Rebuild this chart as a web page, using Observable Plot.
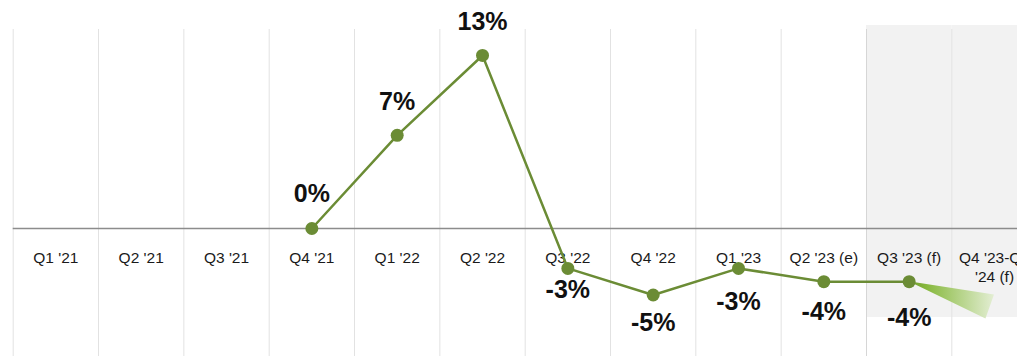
<!DOCTYPE html>
<html>
<head>
<meta charset="utf-8">
<script src="https://cdn.jsdelivr.net/npm/d3@7"></script>
<script src="https://cdn.jsdelivr.net/npm/@observablehq/plot@0.6"></script>
<style>
  html, body { margin: 0; padding: 0; background: #fff; overflow: hidden; }
  #chart svg { display: block; overflow: hidden; }
</style>
</head>
<body>
<div id="chart"></div>
<script>
// ---- data ----
const categories = ["Q1 '21", "Q2 '21", "Q3 '21", "Q4 '21", "Q1 '22", "Q2 '22", "Q3 '22", "Q4 '22", "Q1 '23", "Q2 '23 (e)", "Q3 '23 (f)", "Q4 '23-Q1\n'24 (f)"];
const growth = [null, null, null, 0, 7, 13, -3, -5, -3, -4, -4, null];
const forecastCategories = ["Q3 '23 (f)", "Q4 '23-Q1\n'24 (f)"];
const forecastUpper = [-4, -5.0];
const forecastLower = [-4, -6.8];
const shadedCategories = ["Q3 '23 (f)", "Q4 '23-Q1\n'24 (f)"];

// ---- derived tables ----
const idx = c => categories.indexOf(c);
const points = growth.map((v, i) => ({i, v})).filter(d => d.v !== null);
// the lower edge of the fan ends slightly before the upper edge (slanted end)
const fan = forecastCategories.map((c, k) => ({xa: idx(c), xb: idx(c) - (k ? 0.1 : 0), hi: forecastUpper[k], lo: forecastLower[k]}));

const green = "#6b8c35";
const labelDy = {3: -26, 4: -25, 5: -25, 6: 30, 7: 36, 8: 42, 9: 38, 10: 44};

const W = 1017, H = 356;
const colW = 85.33, x0 = 12.7;

const gradient = () => {
  const defs = d3.create("svg:defs");
  const g = defs.append("linearGradient").attr("id", "fanGrad").attr("x1", "0").attr("x2", "1").attr("y1", "0").attr("y2", "0");
  g.append("stop").attr("offset", "0%").attr("stop-color", "#6f9a2e");
  g.append("stop").attr("offset", "20%").attr("stop-color", "#86b83c");
  g.append("stop").attr("offset", "100%").attr("stop-color", "#e3eed3");
  return defs.node();
};

const chart = Plot.plot({
  width: W,
  height: H,
  marginTop: 0, marginBottom: 0, marginLeft: 0, marginRight: 0,
  style: {fontFamily: "'Liberation Sans', Arial, sans-serif", background: "#fff"},
  x: {type: "linear", domain: [-0.5, categories.length - 0.5], range: [x0, x0 + colW * categories.length], axis: null},
  y: {domain: [-9.62, 17.13], axis: null},
  marks: [
    gradient,
    // shaded forecast background
    Plot.rectY(shadedCategories, {x1: d => idx(d) - 0.5, x2: d => idx(d) + 0.5, y1: -6.69, y2: 15.25, fill: "#f2f2f2", inset: 0}),
    // vertical gridlines at column boundaries
    Plot.ruleX(categories, {x: (d, i) => i - 0.5, y1: 14.95, y2: -9.62, stroke: (d, i) => i === idx(shadedCategories[0]) ? "#d6d6d6" : "#e2e2e2", strokeWidth: 1}),
    // zero line
    Plot.ruleY([0], {x1: -0.5, x2: categories.length - 0.5, stroke: "#8c8c8c", strokeWidth: 1.5}),
    // category labels
    Plot.text(categories, {x: (d, i) => i, y: 0, dy: 21, text: d => d, lineAnchor: "top", fontSize: 15.5, lineHeight: 1.22, fill: "#1a1a1a"}),
    // forecast fan
    Plot.area(fan, {x1: "xa", y1: "hi", x2: "xb", y2: "lo", fill: "url(#fanGrad)", curve: "linear"}),
    // main line
    Plot.line(points, {x: "i", y: "v", stroke: green, strokeWidth: 2.5}),
    Plot.dot(points, {x: "i", y: "v", r: 6.5, fill: green, stroke: "none"}),
    // value labels
    ...points.map(p => Plot.text([p], {x: "i", y: "v", text: d => `${d.v}%`, dy: labelDy[p.i], lineAnchor: "bottom", fontSize: 25, fontWeight: "bold", fill: "#111"}))
  ]
});

document.getElementById("chart").appendChild(chart);
</script>
</body>
</html>
